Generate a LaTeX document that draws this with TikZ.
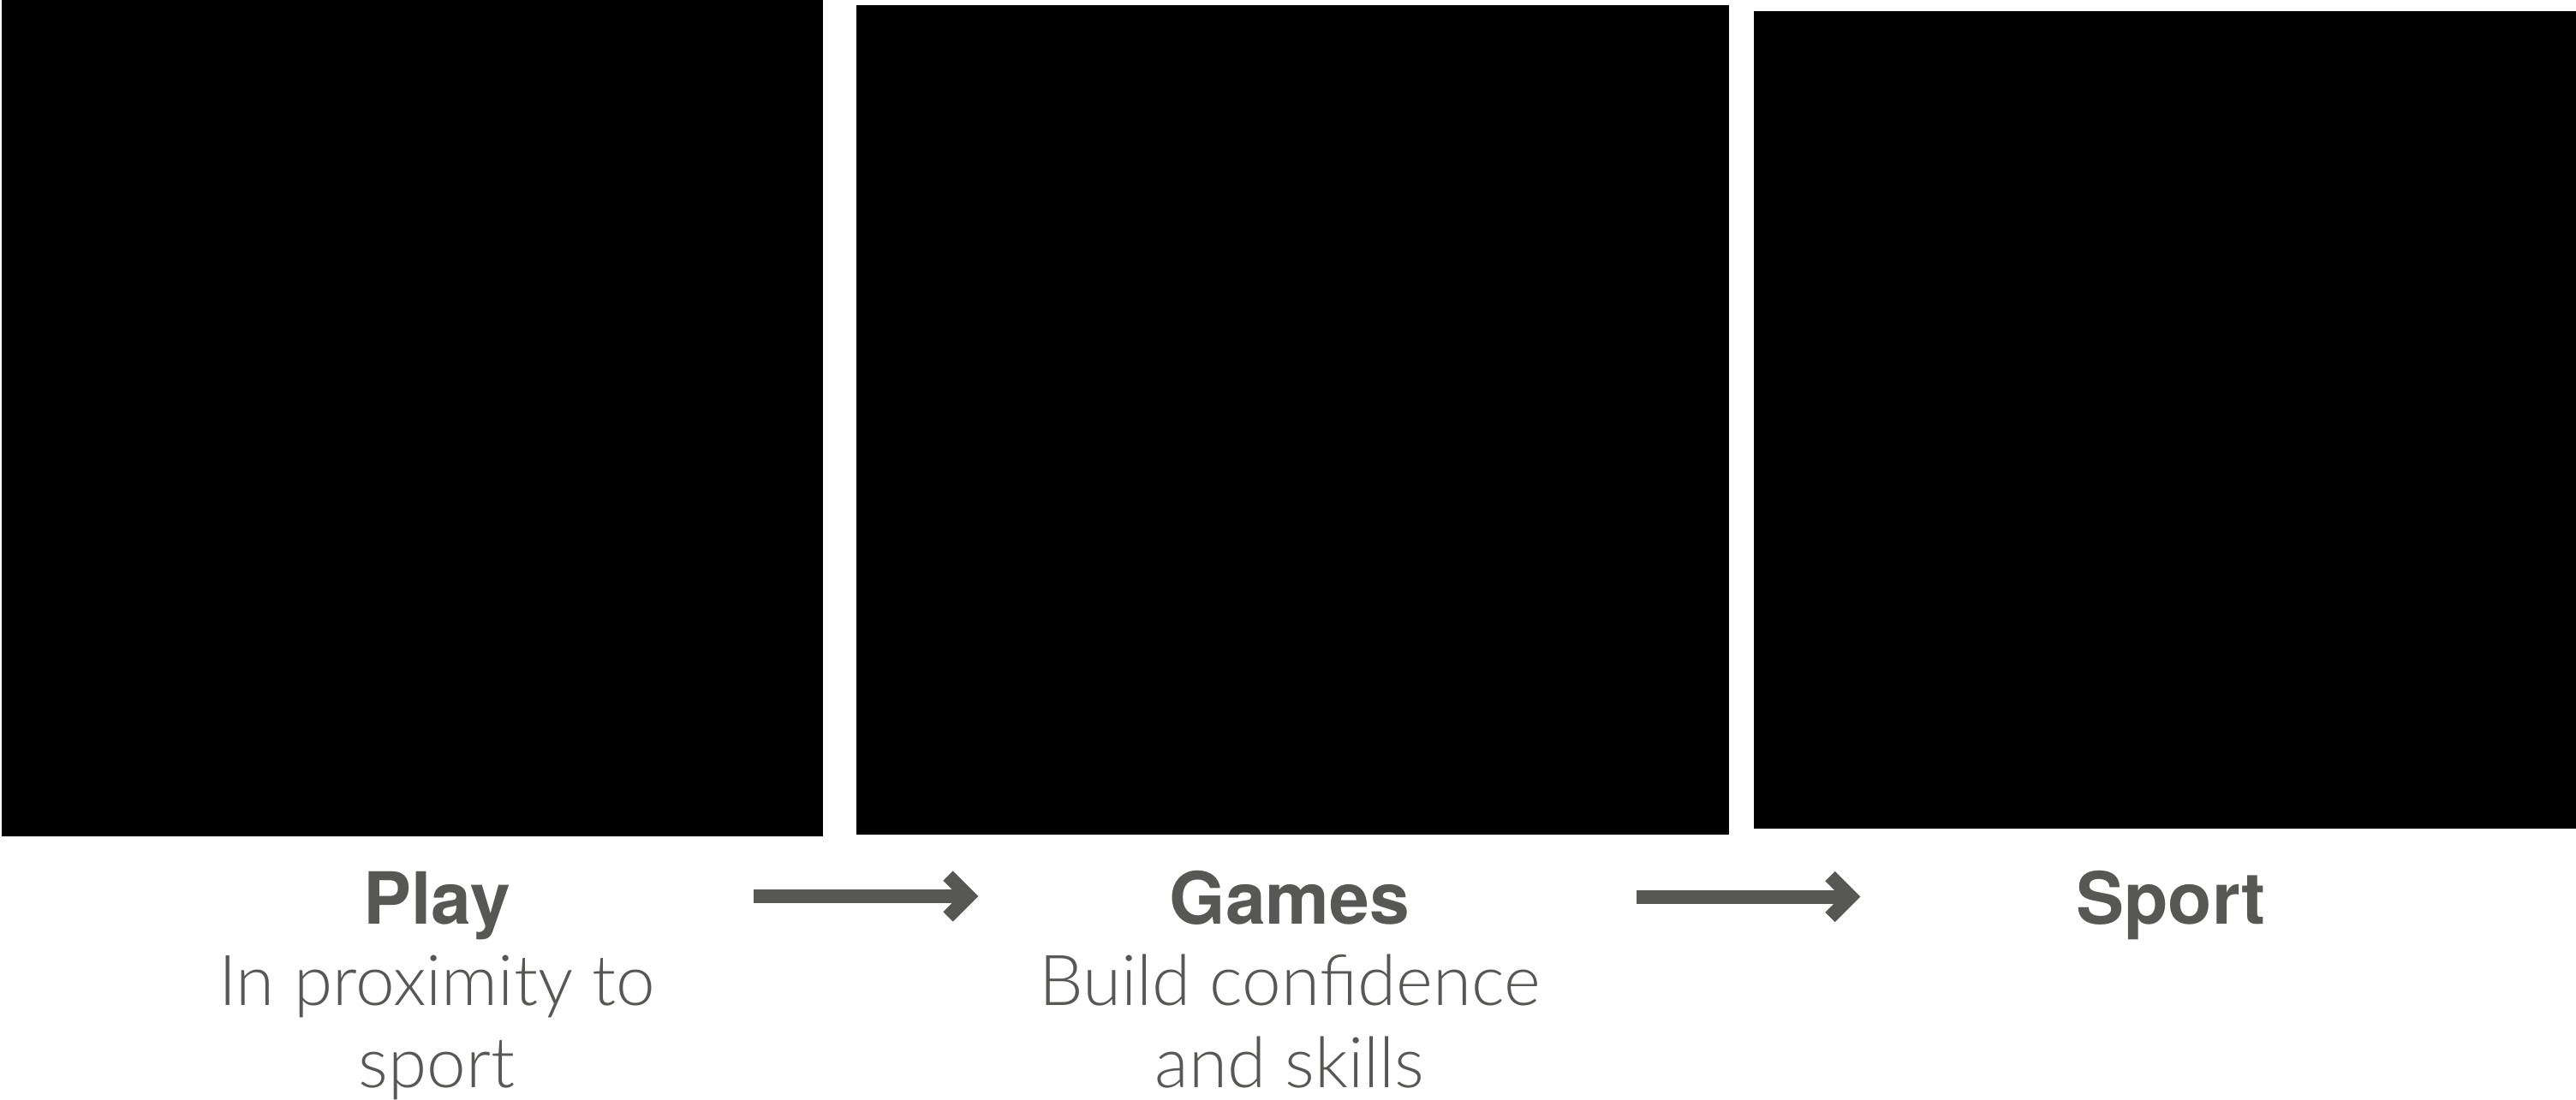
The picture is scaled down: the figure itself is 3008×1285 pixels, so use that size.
\documentclass[tikz,border=0pt]{standalone}
\usepackage{fontspec}
\setmainfont{TeX Gyre Heros}
\newfontfamily\lightfont{Lato}[UprightFont=* Light]
\definecolor{txtgray}{RGB}{87,87,86}
\begin{document}
\begin{tikzpicture}[x=0.01cm,y=-0.01cm,
  photo/.style={fill=black,draw=none,inner sep=0pt,outer sep=0pt,anchor=north west},
  title/.style={text=txtgray,anchor=base,inner sep=0pt,font=\fontsize{23.9pt}{27pt}\selectfont\bfseries},
  subtitle/.style={text=txtgray,anchor=base,inner sep=0pt,font=\lightfont\fontsize{23.3pt}{27pt}\selectfont},
  flowarrow/.style={draw=txtgray,line width=0.16cm,line cap=butt,line join=miter}]
\useasboundingbox (0,0) rectangle (3008,1285);
% photo placeholders
\node[photo,minimum width=9.58cm,minimum height=9.76cm] (p1) at (2,0) {};
\node[photo,minimum width=10.18cm,minimum height=9.68cm] (p2) at (1000,6) {};
\node[photo,minimum width=9.60cm,minimum height=9.54cm] (p3) at (2048,13) {};
% labels
\node[title] (t1) at (510,1079) {Play};
\node[subtitle] (s1a) at (510,1174) {In proximity to};
\node[subtitle] (s1b) at (510,1270) {sport};
\node[title] (t2) at (1506,1079) {Games};
\node[subtitle] (s2a) at (1506,1174) {Build confidence};
\node[subtitle] (s2b) at (1506,1270) {and skills};
\node[title] (t3) at (2535,1079) {Sport};
% arrows
\coordinate (a1s) at (880,1047);
\coordinate (a1c) at (1131,1047);
\coordinate (a1u) at (1107,1023);
\coordinate (a1d) at (1107,1071);
\coordinate (a2s) at (1911,1047.5);
\coordinate (a2c) at (2161,1047.5);
\coordinate (a2u) at (2137,1023.5);
\coordinate (a2d) at (2137,1071.5);
\draw[flowarrow] (a1s) -- (a1c);
\draw[flowarrow] (a1u) -- (a1c) -- (a1d);
\draw[flowarrow] (a2s) -- (a2c);
\draw[flowarrow] (a2u) -- (a2c) -- (a2d);
\end{tikzpicture}
\end{document}
